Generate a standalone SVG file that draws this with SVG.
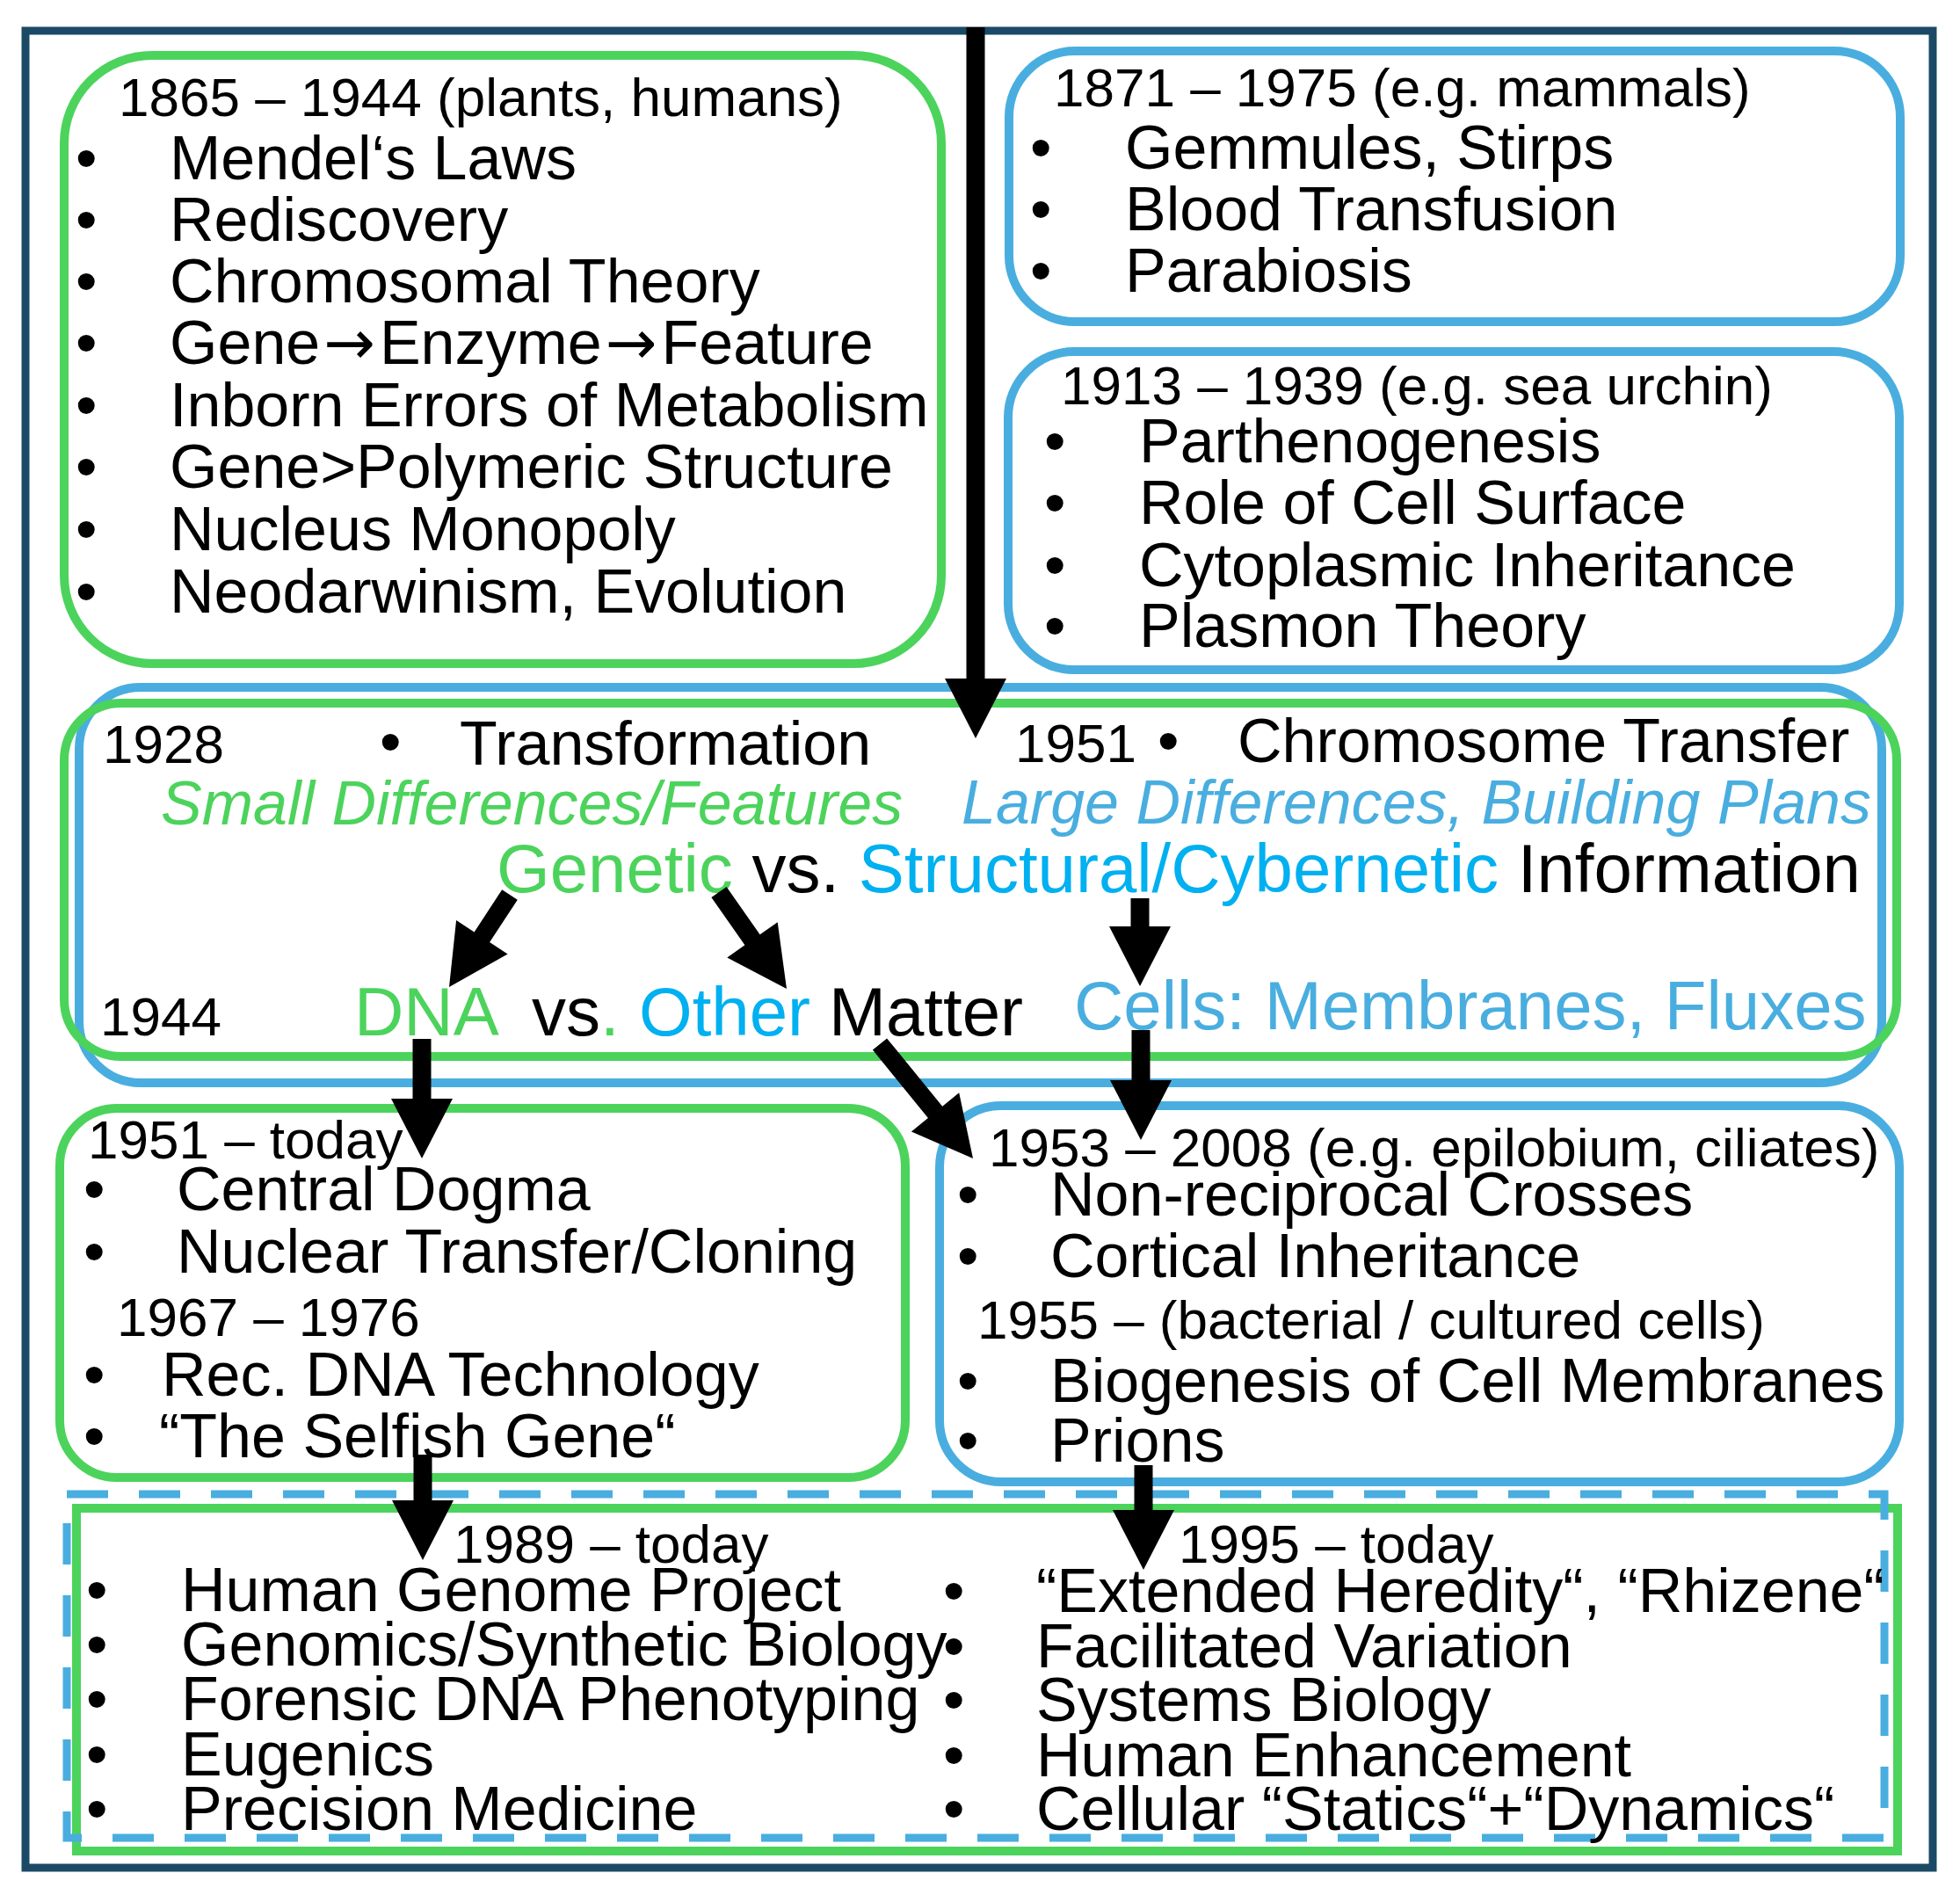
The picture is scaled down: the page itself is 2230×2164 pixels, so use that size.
<svg xmlns="http://www.w3.org/2000/svg" width="2230" height="2164" viewBox="0 0 2230 2164">
<style>
text{font-family:"Liberation Sans",Arial,sans-serif;fill:#000}
.h{font-size:62px}
.b{font-size:70px}
.L{font-size:78px}
.g{fill:#4CD35C}
.lb{fill:#49AEDF}
.bb{fill:#00B0F0}
.it{font-style:italic}
.ar{font-family:"DejaVu Sans",sans-serif}
.gbox{fill:none;stroke:#4CD35C;stroke-width:10}
.bbox{fill:none;stroke:#49AEDF;stroke-width:10}
.arr{fill:#000;stroke:none}
</style>
<rect x="0" y="0" width="2230" height="2164" fill="#fff"/>
<rect id="frame" x="29" y="35" width="2170" height="2090" fill="none" stroke="#1A4A66" stroke-width="9"/>

<g id="box-classical">
<rect class="gbox" x="73" y="63" width="998" height="692" rx="100" ry="100"/>
<text class="h" x="135" y="132">1865 – 1944 (plants, humans)</text>
<text class="b" x="86" y="204">•</text><text class="b" x="193" y="204">Mendel‘s Laws</text>
<text class="b" x="86" y="274">•</text><text class="b" x="193" y="274">Rediscovery</text>
<text class="b" x="86" y="344">•</text><text class="b" x="193" y="344">Chromosomal Theory</text>
<text class="b" x="86" y="414">•</text><text class="b" x="193" y="414">Gene<tspan class="ar" dx="4">→</tspan><tspan dx="5">Enzyme</tspan><tspan class="ar" dx="4">→</tspan><tspan dx="5">Feature</tspan></text>
<text class="b" x="86" y="485">•</text><text class="b" x="193" y="485">Inborn Errors of Metabolism</text>
<text class="b" x="86" y="555">•</text><text class="b" x="193" y="555">Gene&gt;Polymeric Structure</text>
<text class="b" x="86" y="626">•</text><text class="b" x="193" y="626">Nucleus Monopoly</text>
<text class="b" x="86" y="697">•</text><text class="b" x="193" y="697">Neodarwinism, Evolution</text>
</g>

<g id="box-mammals">
<rect class="bbox" x="1148" y="58" width="1014" height="308" rx="75" ry="75"/>
<text class="h" x="1199" y="121">1871 – 1975 (e.g. mammals)</text>
<text class="b" x="1172" y="192">•</text><text class="b" x="1280" y="192">Gemmules, Stirps</text>
<text class="b" x="1172" y="262">•</text><text class="b" x="1280" y="262">Blood Transfusion</text>
<text class="b" x="1172" y="332">•</text><text class="b" x="1280" y="332">Parabiosis</text>
</g>

<g id="box-seaurchin">
<rect class="bbox" x="1147" y="400" width="1014" height="362" rx="75" ry="75"/>
<text class="h" x="1207" y="460">1913 – 1939 (e.g. sea urchin)</text>
<text class="b" x="1188" y="526">•</text><text class="b" x="1296" y="526">Parthenogenesis</text>
<text class="b" x="1188" y="596">•</text><text class="b" x="1296" y="596">Role of Cell Surface</text>
<text class="b" x="1188" y="667">•</text><text class="b" x="1296" y="667">Cytoplasmic Inheritance</text>
<text class="b" x="1188" y="736">•</text><text class="b" x="1296" y="736">Plasmon Theory</text>
</g>

<g id="box-middle">
<rect class="bbox" x="90" y="782" width="2051" height="450" rx="70" ry="70"/>
<rect class="gbox" x="73" y="800" width="2085" height="402" rx="65" ry="65"/>
<text class="h" x="117" y="868">1928</text>
<text class="b" x="432" y="868">•</text>
<text class="b" x="523" y="870">Transformation</text>
<text class="h" x="1155" y="867">1951</text>
<text class="b" x="1317" y="867">•</text>
<text class="b" x="1408" y="867">Chromosome Transfer</text>
<text class="b it g" x="183" y="938">Small Differences/Features</text>
<text class="b it lb" x="1094" y="937">Large Differences, Building Plans</text>
<text class="L" x="565" y="1015"><tspan class="g">Genetic</tspan> vs. <tspan class="bb">Structural/Cybernetic</tspan> Information</text>
<text class="h" x="114" y="1178">1944</text>
<text class="L" y="1178"><tspan class="g" x="403">DNA</tspan><tspan x="605">vs</tspan><tspan class="g">.</tspan><tspan class="bb" x="727">Other</tspan><tspan x="943">Matter</tspan></text>
<text class="L lb" x="1222" y="1171">Cells: Membranes, Fluxes</text>
</g>

<g id="box-dna">
<rect class="gbox" x="68" y="1261" width="962" height="420" rx="65" ry="65"/>
<text class="h" x="100" y="1318">1951 – today</text>
<text class="b" x="95" y="1377">•</text><text class="b" x="201" y="1377">Central Dogma</text>
<text class="b" x="95" y="1448">•</text><text class="b" x="201" y="1448">Nuclear Transfer/Cloning</text>
<text class="h" x="133" y="1520">1967 – 1976</text>
<text class="b" x="95" y="1588">•</text><text class="b" x="184" y="1588">Rec. DNA Technology</text>
<text class="b" x="95" y="1658">•</text><text class="b" x="181" y="1658">“The Selfish Gene“</text>
</g>

<g id="box-cells">
<rect class="bbox" x="1069" y="1258" width="1092" height="428" rx="70" ry="70"/>
<text class="h" x="1125" y="1327">1953 – 2008 (e.g. epilobium, ciliates)</text>
<text class="b" x="1089" y="1383">•</text><text class="b" x="1195" y="1383">Non-reciprocal Crosses</text>
<text class="b" x="1089" y="1453">•</text><text class="b" x="1195" y="1453">Cortical Inheritance</text>
<text class="h" x="1112" y="1523">1955 – (bacterial / cultured cells)</text>
<text class="b" x="1089" y="1595">•</text><text class="b" x="1195" y="1595">Biogenesis of Cell Membranes</text>
<text class="b" x="1089" y="1663">•</text><text class="b" x="1195" y="1663">Prions</text>
</g>

<g id="box-today">
<rect x="87" y="1716" width="2072" height="390" fill="none" stroke="#4CD35C" stroke-width="10"/>
<rect x="76" y="1700" width="2068" height="391" fill="none" stroke="#49AEDF" stroke-width="9" stroke-dasharray="47 35"/>
<text class="h" x="516" y="1778">1989 – today</text>
<text class="b" x="98" y="1833">•</text><text class="b" x="206" y="1833">Human Genome Project</text>
<text class="b" x="98" y="1895">•</text><text class="b" x="206" y="1895">Genomics/Synthetic Biology</text>
<text class="b" x="98" y="1957">•</text><text class="b" x="206" y="1957">Forensic DNA Phenotyping</text>
<text class="b" x="98" y="2020">•</text><text class="b" x="206" y="2020">Eugenics</text>
<text class="b" x="98" y="2082">•</text><text class="b" x="206" y="2082">Precision Medicine</text>
<text class="h" x="1341" y="1778">1995 – today</text>
<text class="b" x="1073" y="1834">•</text><text class="b" x="1179" y="1834">“Extended Heredity“, “Rhizene“</text>
<text class="b" x="1073" y="1897">•</text><text class="b" x="1179" y="1897">Facilitated Variation</text>
<text class="b" x="1073" y="1958">•</text><text class="b" x="1179" y="1958">Systems Biology</text>
<text class="b" x="1073" y="2021">•</text><text class="b" x="1179" y="2021">Human Enhancement</text>
<text class="b" x="1073" y="2082">•</text><text class="b" x="1179" y="2082">Cellular “Statics“+“Dynamics“</text>
</g>

<g id="connectors">
<polygon class="arr" points="1099.5,31 1120.5,31 1120.5,772 1145,772 1110,840 1075,772 1099.5,772"/>
<polygon class="arr" points="588.8,1023.8 557.1,1071.9 577.6,1085.4 511,1123 519.1,1047.0 539.6,1060.4 571.2,1012.2"/>
<polygon class="arr" points="826.6,1009.0 864.6,1063.3 884.7,1049.2 895,1125 827.3,1089.4 847.4,1075.3 809.4,1021.0"/>
<polygon class="arr" points="1286.5,1022 1307.5,1022 1307.5,1054 1332,1054 1297,1122 1262,1054 1286.5,1054"/>
<polygon class="arr" points="469.5,1182 490.5,1182 490.5,1250 515,1250 480,1318 445,1250 469.5,1250"/>
<polygon class="arr" points="1009.1,1181.4 1072.2,1258.7 1091.2,1243.2 1107,1318 1036.9,1287.4 1055.9,1271.9 992.9,1194.6"/>
<polygon class="arr" points="1287.5,1172 1308.5,1172 1308.5,1229 1333,1229 1298,1297 1263,1229 1287.5,1229"/>
<polygon class="arr" points="470.5,1655 491.5,1655 491.5,1707 516,1707 481,1775 446,1707 470.5,1707"/>
<polygon class="arr" points="1290.5,1667 1311.5,1667 1311.5,1718 1336,1718 1301,1786 1266,1718 1290.5,1718"/>
</g>
</svg>
